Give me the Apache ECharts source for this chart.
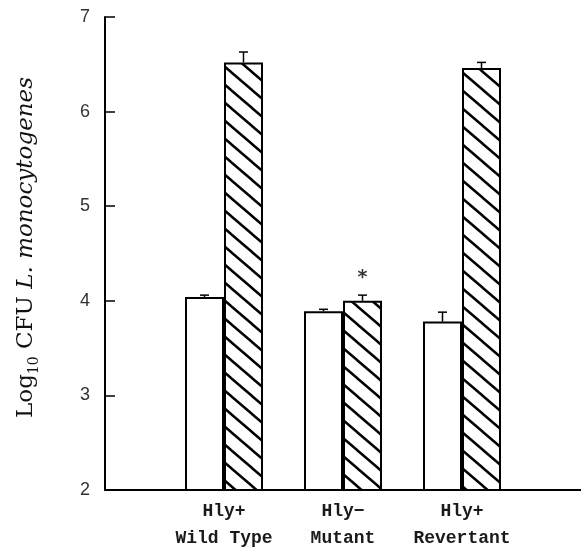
<!DOCTYPE html>
<html><head><meta charset="utf-8">
<script src="https://cdn.jsdelivr.net/npm/echarts@6/dist/echarts.min.js"></script>
<style>html,body{margin:0;padding:0;background:#fff}#c{width:581px;height:548px}</style>
</head><body><div id="c"></div>
<script>
// ---- data ----
const categories = ['', 'Hly+\nWild Type', 'Hly\u2212\nMutant', 'Hly+\nRevertant', ''];
const openValues = ['-', 4.04, 3.89, 3.78, '-'];
const openErrTop = ['-', 4.06, 3.91, 3.88, '-'];
const hatchedValues = ['-', 6.52, 4.00, 6.46, '-'];
const hatchedErrTop = ['-', 6.63, 4.06, 6.52, '-'];
const yTicks = [2, 3, 4, 5, 6, 7];
const significance = [[2, 4.24, '*']];

function hatchPattern() {
  const w = 21, h = 18, c = document.createElement('canvas');
  c.width = w; c.height = h;
  const g = c.getContext('2d');
  const k = h / w, a = 4;
  g.fillStyle = '#fff'; g.fillRect(0, 0, w, h);
  g.strokeStyle = '#000'; g.lineWidth = 2.5;
  g.beginPath();
  g.moveTo(-a, -a * k); g.lineTo(w + a, h + a * k);
  g.moveTo(-a, h - a * k); g.lineTo(a, h + a * k);
  g.moveTo(w - a, -a * k); g.lineTo(w + a, a * k);
  g.stroke();
  return c;
}

function errData(vals, tops) {
  const out = [];
  vals.forEach((v, i) => { if (v !== '-') out.push([i, v, tops[i]]); });
  return out;
}
function errRender(offset) {
  return function (params, api) {
    const b = api.coord([api.value(0), api.value(1)]);
    const t = api.coord([api.value(0), api.value(2)]);
    const cx = b[0] + offset;
    return {
      type: 'group', children: [
        { type: 'line', shape: { x1: cx, y1: b[1], x2: cx, y2: t[1] }, style: { stroke: '#000', lineWidth: 1.5 } },
        { type: 'line', shape: { x1: cx - 4.5, y1: t[1], x2: cx + 4.5, y2: t[1] }, style: { stroke: '#000', lineWidth: 1.5 } }
      ]
    };
  };
}

const chart = echarts.init(document.getElementById('c'), null, { renderer: 'canvas' });
const BW = 39;
chart.setOption({
  animation: false,
  backgroundColor: '#fff',
  grid: { left: 105, right: 0, top: 17, bottom: 58, containLabel: false, outerBoundsMode: 'none' },
  xAxis: {
    type: 'category', data: categories, boundaryGap: false,
    axisLine: { lineStyle: { color: '#000', width: 2 } },
    axisTick: { show: false },
    axisLabel: { interval: 0, margin: 8, fontFamily: 'Liberation Mono', fontWeight: 'bold', fontSize: 18, lineHeight: 27, color: '#1a1a1a' },
    splitLine: { show: false }
  },
  yAxis: {
    type: 'value', min: yTicks[0], max: yTicks[yTicks.length - 1], interval: 1,
    axisLine: { show: true, lineStyle: { color: '#000', width: 2 } },
    axisTick: { show: true, inside: true, length: 10, lineStyle: { color: '#000', width: 1.5 } },
    axisLabel: { margin: 15, fontFamily: 'Liberation Sans', fontSize: 18, color: '#333' },
    splitLine: { show: false },
    name: '{a|Log}{s|10}{a| CFU }{i|L. monocytogenes}',
    nameLocation: 'middle', nameRotate: 90, nameGap: 64,
    nameTextStyle: {
      padding: [0, 0, 0, 12],
      rich: {
        a: { fontFamily: 'DejaVu Serif', fontSize: 23, color: '#111', lineHeight: 30 },
        s: { fontFamily: 'DejaVu Serif', fontSize: 14, color: '#111', verticalAlign: 'bottom', lineHeight: 20 },
        i: { fontFamily: 'DejaVu Serif', fontStyle: 'italic', fontSize: 23, color: '#111', lineHeight: 30 }
      }
    }
  },
  series: [
    { type: 'bar', data: openValues, barWidth: BW, barGap: '0%',
      itemStyle: { color: '#fff', borderColor: '#000', borderWidth: 2 } },
    { type: 'bar', data: hatchedValues, barWidth: BW, barGap: '0%',
      itemStyle: { color: { image: hatchPattern(), repeat: 'repeat' }, borderColor: '#000', borderWidth: 2 } },
    { type: 'custom', renderItem: errRender(-BW / 2), data: errData(openValues, openErrTop), z: 5 },
    { type: 'custom', renderItem: errRender(BW / 2), data: errData(hatchedValues, hatchedErrTop), z: 5 },
    { type: 'scatter', symbolSize: 0, data: significance.map(d => [d[0], d[1], d[2]]),
      label: { show: true, position: 'inside', offset: [BW / 2, 0], formatter: p => p.value[2],
        fontFamily: 'DejaVu Sans', fontWeight: 'bold', fontSize: 19, color: '#000' } }
  ]
});
</script>
</body></html>
